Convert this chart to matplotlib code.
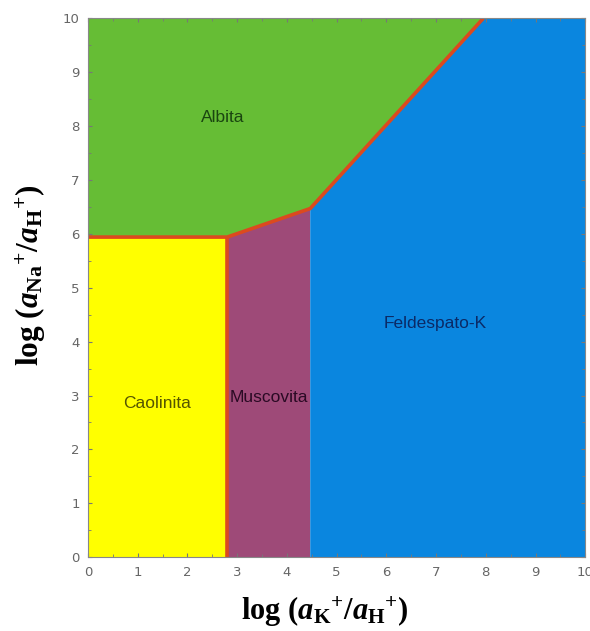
import matplotlib
matplotlib.use("Agg")
import matplotlib.pyplot as plt
from matplotlib.patches import Polygon
from matplotlib.ticker import MultipleLocator

# Stability-field boundaries (log activity ratios)
kaol_musc_x = 2.8          # kaolinite / muscovite boundary
musc_kfs_x = 4.47          # muscovite / K-feldspar boundary
albite_floor = 5.94        # albite lower limit over kaolinite
musc_top = 6.47            # albite / muscovite limit at muscovite-K-feldspar junction
albite_kfs_top_x = 7.95    # albite / K-feldspar line meets top axis

phase_names = ["Albita", "Feldespato-K", "Caolinita", "Muscovita"]
phase_label_x = [2.71, 6.98, 1.39, 3.63]
phase_label_y = [8.16, 4.34, 2.86, 2.97]
phase_text_colors = ["#1a4510", "#0b2a66", "#555500", "#2a0a24"]

lim = 10

plt.rcParams["mathtext.fontset"] = "custom"
plt.rcParams["mathtext.rm"] = "Liberation Serif:bold"
plt.rcParams["mathtext.it"] = "Liberation Serif:bold:italic"
plt.rcParams["mathtext.bf"] = "Liberation Serif:bold"

fig = plt.figure(figsize=(5.9, 6.31), dpi=100)
ax = fig.add_axes([0.149, 0.117, 0.843, 0.854])

fields = {
    "Caolinita": ([(0, 0), (kaol_musc_x, 0), (kaol_musc_x, albite_floor), (0, albite_floor)], "#ffff00"),
    "Muscovita": ([(kaol_musc_x, 0), (musc_kfs_x, 0), (musc_kfs_x, musc_top), (kaol_musc_x, albite_floor)], "#9e4a78"),
    "Feldespato-K": ([(musc_kfs_x, 0), (lim, 0), (lim, lim), (albite_kfs_top_x, lim), (musc_kfs_x, musc_top)], "#0a86df"),
    "Albita": ([(0, albite_floor), (kaol_musc_x, albite_floor), (musc_kfs_x, musc_top), (albite_kfs_top_x, lim), (0, lim)], "#66bd35"),
}
for verts, color in fields.values():
    ax.add_patch(Polygon(verts, closed=True, facecolor=color, edgecolor="none", zorder=1))

line_kw = dict(color="#dc4a1e", lw=2.6, solid_capstyle="butt", zorder=3)
ax.plot([0, kaol_musc_x, musc_kfs_x, albite_kfs_top_x],
        [albite_floor, albite_floor, musc_top, lim], **line_kw)
ax.plot([kaol_musc_x, kaol_musc_x], [0, albite_floor], **line_kw)

for name, x, y, c in zip(phase_names, phase_label_x, phase_label_y, phase_text_colors):
    ax.text(x, y, name, ha="center", va="center", fontsize=12.5,
            family="Liberation Sans", color=c, zorder=4)

ax.set_xlim(0, lim)
ax.set_ylim(0, lim)
ax.xaxis.set_major_locator(MultipleLocator(1))
ax.yaxis.set_major_locator(MultipleLocator(1))
ax.xaxis.set_minor_locator(MultipleLocator(0.5))
ax.yaxis.set_minor_locator(MultipleLocator(0.5))
ax.tick_params(which="both", direction="in", colors="#777777", labelcolor="#666666",
               labelsize=9.5, top=True, right=True)
ax.tick_params(which="major", length=3, pad=6)
ax.tick_params(which="minor", length=2)
for s in ax.spines.values():
    s.set_color("#888888")
    s.set_linewidth(0.8)
    s.set_zorder(5)

ax.set_xlabel(r"log ($\mathit{a}_{\mathrm{K}}{}^{+}/\mathit{a}_{\mathrm{H}}{}^{+}$)",
              fontsize=22, family="Liberation Serif", fontweight="bold",
              va="center", ha="center")
ax.xaxis.set_label_coords(0.477, -0.102)
ax.set_ylabel(r"log ($\mathit{a}_{\mathrm{Na}}{}^{+}/\mathit{a}_{\mathrm{H}}{}^{+}$)",
              fontsize=22.5, family="Liberation Serif", fontweight="bold",
              va="center", ha="center")
ax.yaxis.set_label_coords(-0.115, 0.523)

fig.savefig("out.png", dpi=100)
